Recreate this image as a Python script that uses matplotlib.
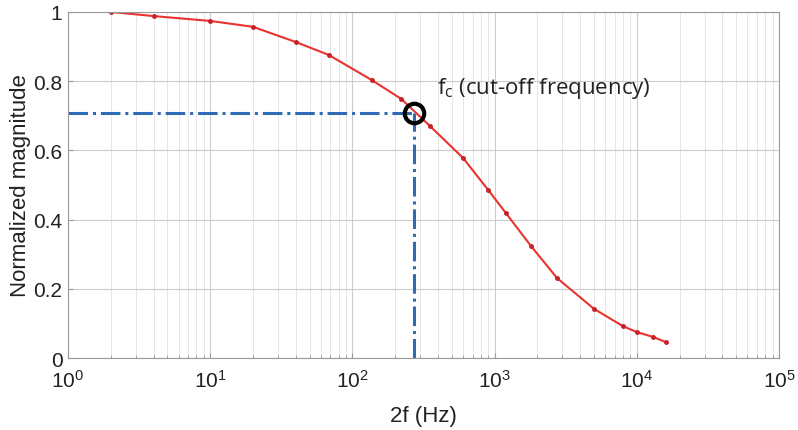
import matplotlib
matplotlib.use('Agg')
import matplotlib.pyplot as plt
from matplotlib.ticker import LogLocator, NullFormatter

# frequency (Hz) and normalized magnitude
freq = [2, 4, 10, 20, 40, 68, 137, 220, 350, 600, 900, 1200, 1800, 2750, 5000, 8000, 10000, 13000, 16000]
mag = [1.0, 0.988, 0.974, 0.957, 0.913, 0.876, 0.803, 0.749, 0.671, 0.578, 0.486, 0.419, 0.324, 0.231, 0.142, 0.092, 0.075, 0.061, 0.046]

fc = 271
fc_mag = 0.707

fig = plt.figure(figsize=(7.98, 4.31), dpi=100)
ax = fig.add_axes([0.0852, 0.167, 0.891, 0.803])

ax.plot(freq, mag, color='#e8332f', lw=1.5, marker='.', ms=5, mfc='#c8202a', mec='#c8202a')
ax.plot([1, fc], [fc_mag, fc_mag], color='#2f6bb5', lw=2.2, ls='-.')
ax.plot([fc, fc], [0, fc_mag], color='#2f6bb5', lw=2.2, ls='-.')
ax.plot([fc], [fc_mag], 'o', ms=14, mfc='none', mec='black', mew=3)

ax.text(392, 0.783, r'f$_\mathregular{c}$ (cut-off frequency)', fontsize=16,
        family=['Open Sans', 'DejaVu Sans'], color='#222222', va='center')

ax.set_xscale('log')
ax.set_xlim(1, 1e5)
ax.set_ylim(0, 1)
ax.set_yticks([0, 0.2, 0.4, 0.6, 0.8, 1])
ax.set_yticklabels(['0', '0.2', '0.4', '0.6', '0.8', '1'])
ax.xaxis.set_minor_locator(LogLocator(base=10, subs=range(2, 10)))
ax.xaxis.set_minor_formatter(NullFormatter())

ax.grid(True, which='major', color='#cccccc', lw=0.8)
ax.grid(True, which='minor', axis='x', color='#e2e2e2', lw=0.6)
ax.set_axisbelow(True)
for s in ax.spines.values():
    s.set_color('#999999')
ax.tick_params(which='both', direction='in', color='#999999', labelsize=15)
ax.tick_params(axis='x', pad=8)
ax.tick_params(axis='y', pad=4)
for lab in ax.get_xticklabels() + ax.get_yticklabels():
    lab.set_family(['Liberation Sans', 'DejaVu Sans'])
    lab.set_color('#222222')

ax.set_xlabel('2f (Hz)', fontsize=16, family=['Liberation Sans Narrow', 'Liberation Sans'], color='#222222', labelpad=10)
ax.set_ylabel('Normalized magnitude', fontsize=16, family=['Liberation Sans', 'DejaVu Sans'], color='#222222', labelpad=2)

fig.savefig('out.png', dpi=100)
